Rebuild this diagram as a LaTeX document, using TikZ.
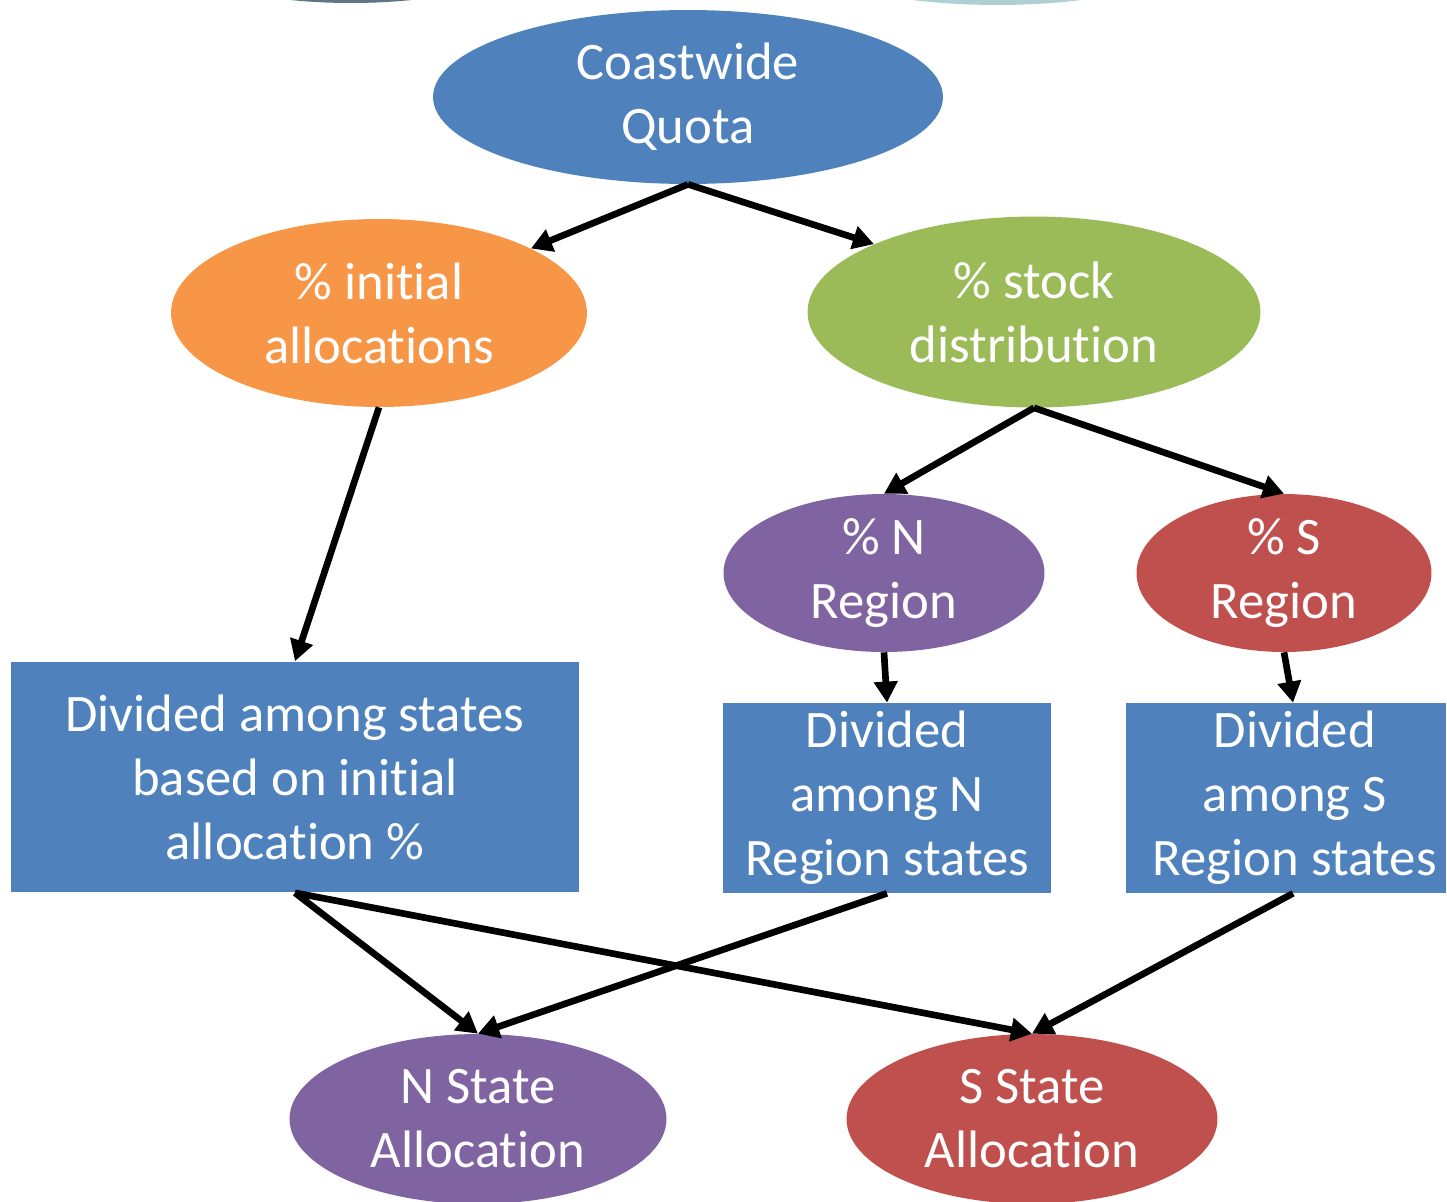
\documentclass[tikz,border=0pt]{standalone}
\usepackage{fontspec}
\setmainfont{Carlito}[Ligatures=NoCommon]
\usetikzlibrary{shapes.geometric,arrows.meta}
\definecolor{cblue}{HTML}{4F81BD}
\definecolor{corange}{HTML}{F79646}
\definecolor{cgreen}{HTML}{9BBB59}
\definecolor{cpurple}{HTML}{8064A2}
\definecolor{cred}{HTML}{C0504D}
\definecolor{edgedark}{HTML}{5E7584}
\definecolor{edgelight}{HTML}{AECFD3}

\begin{document}
\begin{tikzpicture}[x=0.02cm,y=-0.02cm,
	oval/.style={ellipse,fill=#1,text=white,align=center,inner sep=0pt},
	box/.style={rectangle,fill=cblue,text=white,align=center,inner sep=0pt},
	arr/.style={line width=3.8pt,-{Triangle[length=12pt,width=13pt]}},
	every node/.style={font=\fontsize{30}{36.4}\selectfont}]
	\useasboundingbox (0,0) rectangle (1447,1201);
	\clip (0,0) rectangle (1447,1201);

	% slide edge
	\fill[edgedark] (351,-40) ellipse [x radius=3.3cm, y radius=0.86cm];
	\fill[edgelight] (997,-70) ellipse [x radius=4.7cm, y radius=1.5cm];

	% ovals
	\node[oval=cblue, minimum width=10.2cm, minimum height=3.48cm] (coast) at (688,97) {Coastwide\\Quota};
	\node[oval=corange, minimum width=8.32cm, minimum height=3.76cm] (init) at (379,313) {\% initial\\allocations};
	\node[oval=cgreen, minimum width=9.06cm, minimum height=3.82cm] (stock) at (1034,312) {\% stock\\distribution};
	\node[oval=cpurple, minimum width=6.42cm, minimum height=3.16cm] (nreg) at (884,573) {\% N\\Region};
	\node[oval=cred, minimum width=5.9cm, minimum height=3.16cm] (sreg) at (1284,573) {\% S\\Region};
	\node[oval=cpurple, minimum width=7.54cm, minimum height=3.4cm] (nstate) at (478,1119) {N State\\Allocation};
	\node[oval=cred, minimum width=7.42cm, minimum height=3.4cm] (sstate) at (1032,1119) {S State\\Allocation};

	% boxes
	\node[box, minimum width=11.36cm, minimum height=4.62cm] (all) at (295,777) {Divided among states\\based on initial\\allocation \%};
	\node[box, minimum width=6.58cm, minimum height=3.8cm] (nbox) at (887,798) {Divided\\among N\\Region states};
	\node[box, minimum width=6.42cm, minimum height=3.8cm] (sbox) at (1286,798) {\hspace*{10pt}Divided\\\hspace*{10pt}among S\\\hspace*{10pt}Region states};

	% arrows
	\draw[arr] (coast.south) -- (init.23);
	\draw[arr] (coast.south) -- (stock.157);
	\draw[arr] (init.south) -- (all.north);
	\draw[arr] (stock.south) -- (nreg.north);
	\draw[arr] (stock.south) -- (sreg.north);
	\draw[arr] (nreg.south) -- (nbox.north);
	\draw[arr] (sreg.south) -- ([xshift=4pt]sbox.north);
	\draw[arr] (all.south) -- (nstate.north);
	\draw[arr] (all.south) -- (sstate.north);
	\draw[arr] (nbox.south) -- (nstate.north);
	\draw[arr] ([xshift=4pt]sbox.south) -- (sstate.north);

\end{tikzpicture}
\end{document}
